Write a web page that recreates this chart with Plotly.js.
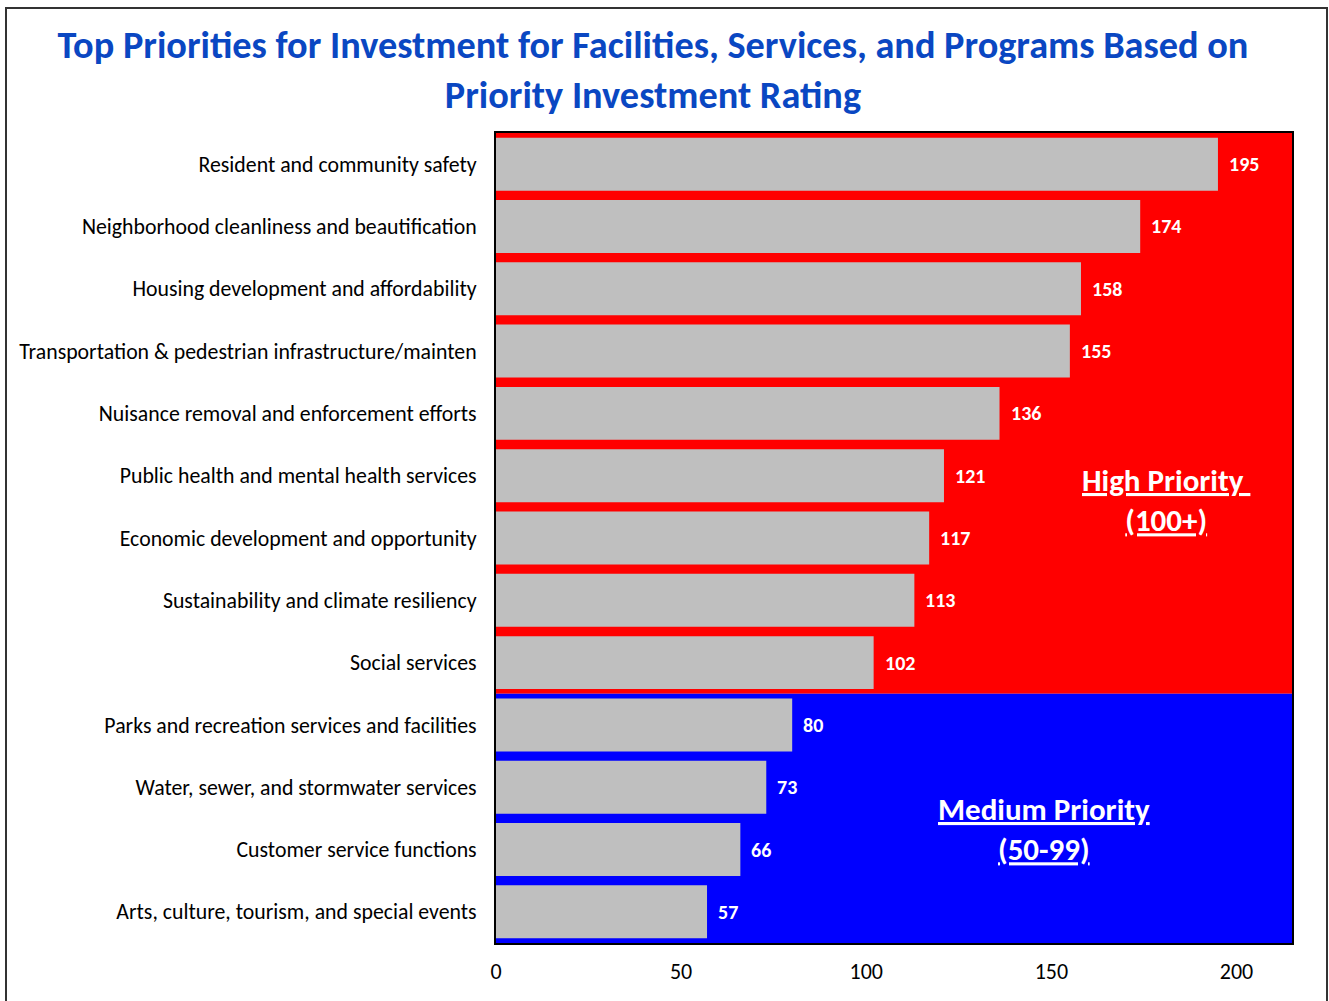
<!DOCTYPE html>
<html>
<head>
<meta charset="utf-8">
<script src="https://cdn.plot.ly/plotly-3.0.1.min.js"></script>
<style>html,body{margin:0;padding:0;background:#fff;}#chart{width:1329px;height:1001px;}</style>
</head>
<body>
<div id="chart"></div>
<script>
const categories = [
  "Resident and community safety",
  "Neighborhood cleanliness and beautification",
  "Housing development and affordability",
  "Transportation & pedestrian infrastructure/mainten",
  "Nuisance removal and enforcement efforts",
  "Public health and mental health services",
  "Economic development and opportunity",
  "Sustainability and climate resiliency",
  "Social services",
  "Parks and recreation services and facilities",
  "Water, sewer, and stormwater services",
  "Customer service functions",
  "Arts, culture, tourism, and special events"
];
const ratings = [195, 174, 158, 155, 136, 121, 117, 113, 102, 80, 73, 66, 57];
const xTicks = [0, 50, 100, 150, 200];

const FONT = "Carlito, Lato, 'Open Sans', sans-serif";
const plotL = 496, plotR = 1292, plotT = 133, plotB = 943, W = 1329, H = 1001;
const pw = plotR - plotL, ph = plotB - plotT;

const trace = {
  type: 'bar',
  orientation: 'h',
  y: categories,
  x: ratings,
  marker: {color: '#bfbfbf', line: {color: '#bfbfbf', width: 0}},
  hoverinfo: 'x+y'
};

const labelAnns = ratings.map((v, i) => ({
  x: v, y: categories[i], xref: 'x', yref: 'y',
  text: '<b>' + v + '</b>', showarrow: false,
  xanchor: 'left', xshift: 9,
  font: {family: FONT, size: 20, color: '#ffffff'}
}));

const layout = {
  width: W, height: H,
  margin: {l: plotL, r: W - plotR, t: plotT, b: H - plotB, pad: 0},
  paper_bgcolor: '#ffffff',
  plot_bgcolor: 'rgba(0,0,0,0)',
  bargap: 0.15,
  showlegend: false,
  title: {
    text: '<b>Top Priorities for Investment for Facilities, Services, and Programs Based on<br>Priority Investment Rating</b>',
    font: {family: FONT, size: 38.3, color: '#0a47c2'},
    x: 0.4913, xanchor: 'center', y: 1 - 58 / 1001, yanchor: 'top', yref: 'container'
  },
  xaxis: {
    range: [0, 215], tickvals: xTicks, ticktext: xTicks.map(String),
    showgrid: false, zeroline: false, ticks: '',
    showline: true, mirror: true, linecolor: '#000', linewidth: 2,
    tickfont: {family: FONT, size: 22, color: '#000'},
    ticklabelstandoff: 8, fixedrange: true
  },
  yaxis: {
    type: 'category', autorange: 'reversed',
    showgrid: false, zeroline: false, ticks: '',
    showline: true, mirror: true, linecolor: '#000', linewidth: 2,
    tickfont: {family: FONT, size: 21.8, color: '#000'},
    ticklabelstandoff: 13, fixedrange: true
  },
  shapes: [
    {type: 'rect', layer: 'below', xref: 'paper', yref: 'y', x0: 0, x1: 1, y0: -0.5, y1: 8.5,
     fillcolor: '#ff0000', line: {width: 0}},
    {type: 'rect', layer: 'below', xref: 'paper', yref: 'y', x0: 0, x1: 1, y0: 8.5, y1: 12.5,
     fillcolor: '#0000ff', line: {width: 0}},
    {type: 'rect', layer: 'above', xref: 'paper', yref: 'paper',
     x0: (6 - plotL) / pw, x1: (1327 - plotL) / pw,
     y0: (plotB - 1010) / ph, y1: (plotB - 8) / ph,
     line: {color: '#333', width: 2}, fillcolor: 'rgba(0,0,0,0)'}
  ],
  annotations: labelAnns.concat([
    {xref: 'paper', yref: 'paper', x: (1166 - plotL) / pw, y: (plotB - 500) / ph,
     text: '<b><u>High Priority </u><br><u>(100+)</u></b>', showarrow: false,
     xanchor: 'center', yanchor: 'middle',
     font: {family: FONT, size: 31, color: '#ffffff'}},
    {xref: 'paper', yref: 'paper', x: (1044 - plotL) / pw, y: (plotB - 829) / ph,
     text: '<b><u>Medium Priority</u><br><u>(50-99)</u></b>', showarrow: false,
     xanchor: 'center', yanchor: 'middle',
     font: {family: FONT, size: 31, color: '#ffffff'}}
  ])
};

Plotly.newPlot('chart', [trace], layout, {displayModeBar: false, staticPlot: true});
</script>
</body>
</html>
